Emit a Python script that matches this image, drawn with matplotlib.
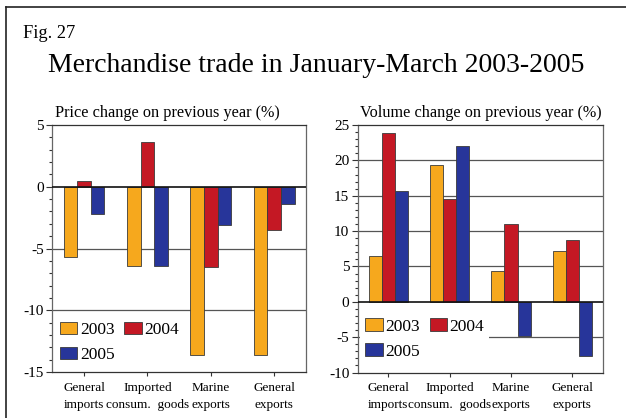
import matplotlib
matplotlib.use("Agg")
import matplotlib.pyplot as plt
import numpy as np
from matplotlib.lines import Line2D
from matplotlib.ticker import MultipleLocator

plt.rcParams['font.family'] = ['Liberation Serif', 'DejaVu Serif']

categories = ["General\nimports", "Imported\nconsum.  goods", "Marine\nexports", "General\nexports"]
years = ["2003", "2004", "2005"]
price_2003 = [-5.7, -6.4, -13.6, -13.6]
price_2004 = [0.5, 3.6, -6.5, -3.5]
price_2005 = [-2.2, -6.4, -3.1, -1.4]
volume_2003 = [6.5, 19.4, 4.4, 7.2]
volume_2004 = [23.8, 14.5, 11.0, 8.7]
volume_2005 = [15.7, 22.1, -4.8, -7.6]
colors = ["#F6A81D", "#C41824", "#27359A"]

fig = plt.figure(figsize=(6.26, 4.18), dpi=100)
W, H = 626, 418

def ax_rect(x0, x1, ytop, ybot):
    return [x0 / W, 1 - ybot / H, (x1 - x0) / W, (ybot - ytop) / H]

# outer frame
fig.add_artist(Line2D([6 / W, 1.0], [1 - 7 / H, 1 - 7 / H], color="#222", lw=1.2))
fig.add_artist(Line2D([6 / W, 6 / W], [0, 1 - 7 / H], color="#222", lw=1.2))

fig.text(23 / W, 1 - 33 / H, "Fig. 27", fontsize=13.2, va="center", ha="left")
fig.text(48 / W, 1 - 66 / H, "Merchandise trade in January-March 2003-2005",
         fontsize=20, va="center", ha="left")

def draw(ax, series, ylim, major, subtitle, legend_anchor):
    x = np.arange(len(categories))
    w = 0.215
    handles = []
    for i, (vals, c) in enumerate(zip(series, colors)):
        b = ax.bar(x + (i - 1) * w, vals, w, color=c, edgecolor="#3a3a3a",
                   linewidth=0.6, zorder=3, label=years[i])
        handles.append(b)
    ax.set_xlim(-0.5, len(categories) - 0.5)
    ax.set_ylim(*ylim)
    ax.yaxis.set_minor_locator(MultipleLocator(1))
    ticks = np.arange(ylim[0], ylim[1] + 0.1, major)
    ax.set_yticks(ticks)
    ax.set_yticklabels([f"{int(t)}" for t in ticks], fontsize=11)
    for t in ticks:
        if t == 0:
            ax.axhline(0, color="#111", lw=1.2, zorder=4)
        elif ylim[0] < t < ylim[1]:
            ax.axhline(t, color="#555", lw=0.9, zorder=1)
    ax.set_xticks(x)
    ax.set_xticklabels(categories, fontsize=9.5, linespacing=1.55)
    ax.tick_params(axis="x", length=3, width=0.8, color="#333", pad=4)
    ax.tick_params(axis="y", which="major", length=4, width=0.8, color="#333", pad=2)
    ax.tick_params(axis="y", which="minor", length=2, width=0.8, color="#333")
    for s in ax.spines.values():
        s.set_color("#666")
        s.set_linewidth(0.9)
    ax.spines["top"].set_color("#333")
    ax.spines["bottom"].set_color("#333")
    ax.text(0.01, 1.015, subtitle, transform=ax.transAxes, fontsize=11.7,
            ha="left", va="bottom")
    leg = ax.legend([handles[0], handles[2], handles[1]],
                    [years[0], years[2], years[1]], ncol=2,
                    loc="upper left", bbox_to_anchor=legend_anchor,
                    fontsize=12.5, frameon=True, framealpha=1, facecolor="white",
                    edgecolor="none", handlelength=1.0, handleheight=0.75,
                    handletextpad=0.15, columnspacing=0.55, labelspacing=0.5,
                    borderpad=0.3, borderaxespad=0, fancybox=False)
    leg.set_zorder(2)

ax1 = fig.add_axes(ax_rect(52.3, 306, 125, 372))
draw(ax1, [price_2003, price_2004, price_2005], (-15, 5), 5,
     "Price change on previous year (%)", (0.01, 0.225))

ax2 = fig.add_axes(ax_rect(357.7, 603, 125, 372.5))
draw(ax2, [volume_2003, volume_2004, volume_2005], (-10, 25), 5,
     "Volume change on previous year (%)", (0.01, 0.24))

fig.savefig("out.png", dpi=100)
